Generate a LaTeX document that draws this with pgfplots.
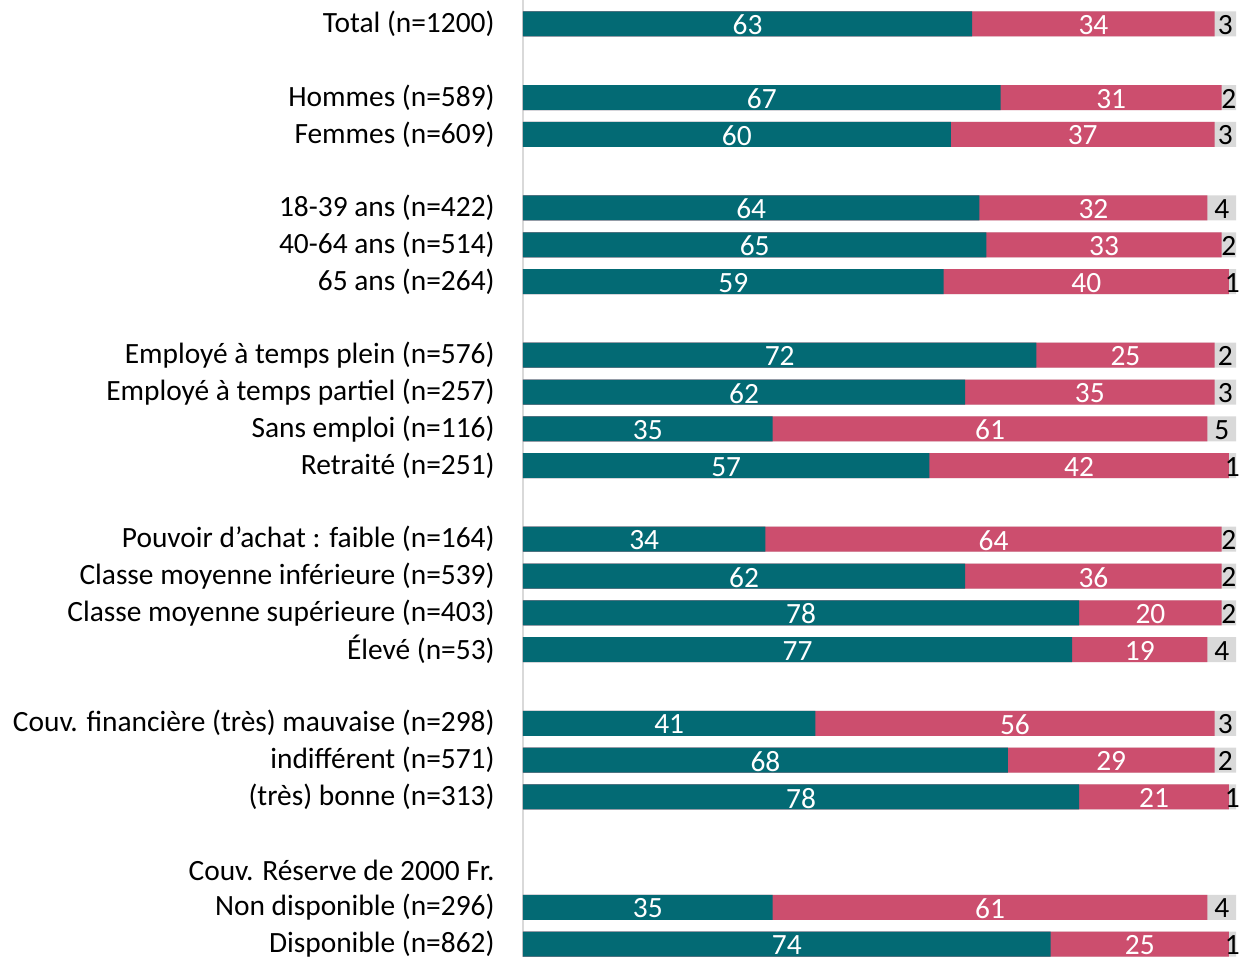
\documentclass[border=0pt]{standalone}
\usepackage{pgfplots}
\pgfplotsset{compat=1.18}
\usepackage{pgfplotstable}
\usepackage{fontspec}
\setmainfont{Carlito}
\definecolor{teal1}{HTML}{036A74}
\definecolor{pink1}{HTML}{CC4E6E}
\definecolor{gray1}{HTML}{D9D9D9}
\pgfplotstableread{
y a b c
0 63 34 3
2 67 31 2
3 60 37 3
5 64 32 4
6 65 33 2
7 59 40 1
9 72 25 2
10 62 35 3
11 35 61 5
12 57 42 1
14 34 64 2
15 62 36 2
16 78 20 2
17 77 19 4
19 41 56 3
20 68 29 2
21 78 21 1
24 35 61 4
25 74 25 1
}\data
\newcommand{\lblfont}{\fontsize{14.7}{17.5}\selectfont}
\begin{document}
\begin{tikzpicture}
\lblfont
\begin{axis}[
  scale only axis,
  width=356.5pt, height=478.5pt,
  xmin=0, xmax=100, ymin=-0.65, ymax=25.35,
  y dir=reverse,
  axis x line=none,
  axis y line=left,
  y axis line style={-, draw=gray1, line width=1pt},
  major tick length=0pt,
  ytick={0,2,3,5,6,7,9,10,11,12,14,15,16,17,19,20,21,23,24,25},
  yticklabels={Total (n=1200),Hommes (n=589),Femmes (n=609),18-39 ans (n=422),40-64 ans (n=514),65 ans (n=264),Employé à temps plein (n=576),Employé à temps partiel (n=257),Sans emploi (n=116),Retraité (n=251),Pouvoir d’achat : faible (n=164),Classe moyenne inférieure (n=539),Classe moyenne supérieure (n=403),Élevé (n=53),Couv. financière (très) mauvaise (n=298),indifférent (n=571),(très) bonne (n=313),Couv. Réserve de 2000 Fr.,Non disponible (n=296),Disponible (n=862)},
  yticklabel style={anchor=east, inner sep=0pt, xshift=-14pt, font=\lblfont},
  clip=false,
]
\addplot[xbar, bar width=12.5pt, bar shift=0pt, fill=gray1, draw=none] table[x expr=100, y=y] {\data};
\addplot[xbar, bar width=12.5pt, bar shift=0pt, fill=pink1, draw=none] table[x expr=\thisrow{a}+\thisrow{b}, y=y] {\data};
\addplot[xbar, bar width=12.5pt, bar shift=0pt, fill=teal1, draw=none] table[x=a, y=y] {\data};
\addplot[draw=none, mark=none, nodes near coords, point meta=explicit symbolic,
  every node near coord/.append style={anchor=center, text=white, inner sep=0pt, yshift=-0.6pt, font=\lblfont}]
  table[x expr=\thisrow{a}/2, y=y, meta=a] {\data};
\addplot[draw=none, mark=none, nodes near coords, point meta=explicit symbolic,
  every node near coord/.append style={anchor=center, text=white, inner sep=0pt, yshift=-0.6pt, font=\lblfont}]
  table[x expr=\thisrow{a}+\thisrow{b}/2, y=y, meta=b] {\data};
\addplot[draw=none, mark=none, nodes near coords, point meta=explicit symbolic,
  every node near coord/.append style={anchor=center, text=black, inner sep=0pt, yshift=-0.6pt, font=\lblfont}]
  table[x expr=(\thisrow{a}+\thisrow{b}+100)/2, y=y, meta=c] {\data};
\coordinate (A) at (rel axis cs:0,0);
\coordinate (B) at (rel axis cs:1,1);
\end{axis}
\pgfresetboundingbox
\path[use as bounding box] ([xshift=-261.5pt]A) rectangle ([xshift=7.5pt]B);
\end{tikzpicture}
\end{document}
